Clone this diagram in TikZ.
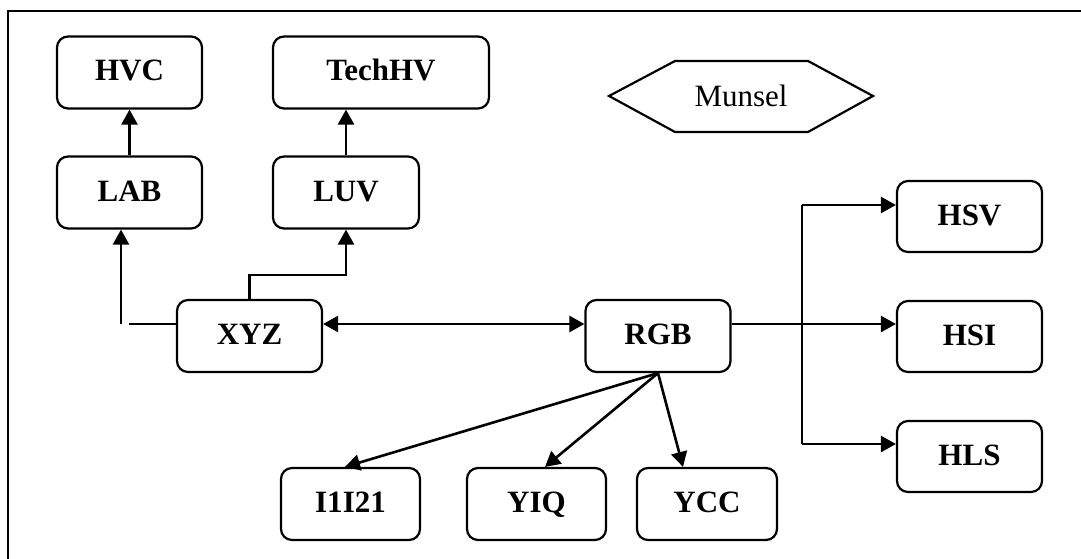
\documentclass[tikz,border=0pt]{standalone}
\usepackage{fontspec}
\setmainfont{Liberation Serif}
\usetikzlibrary{arrows.meta,calc}
\begin{document}
\begin{tikzpicture}[x=1pt,y=-1pt,
  box/.style={draw,line width=2.2pt,rounded corners=11pt,minimum height=72pt,
    font=\fontsize{31}{36}\selectfont\bfseries,inner sep=0pt,text height=22pt,text depth=5pt},
  arr/.style={line width=2.6pt,-{Triangle[length=15pt,width=16pt]}},
  arrtwo/.style={line width=2.6pt,{Triangle[length=15pt,width=16pt]}-{Triangle[length=15pt,width=16pt]}},
  ln/.style={line width=2.6pt}]
\useasboundingbox (0,0) rectangle (1081,559);
\draw[line width=2.4pt] (8,559) -- (8,11) -- (1081,11);

\node[box,minimum width=145pt] (HVC) at (129.5,72.5) {HVC};
\node[box,minimum width=216pt] (TechHV) at (381,72.5) {TechHV};
\node[box,minimum width=145pt] (LAB) at (129.5,192.5) {LAB};
\node[box,minimum width=146pt] (LUV) at (346,192.5) {LUV};
\node[box,minimum width=145pt] (XYZ) at (249.5,336) {XYZ};
\node[box,minimum width=145pt] (RGB) at (658,336) {RGB};
\node[box,minimum width=145pt,minimum height=71pt] (HSV) at (969.5,216.5) {HSV};
\node[box,minimum width=145pt,minimum height=71pt] (HSI) at (969.5,336.5) {HSI};
\node[box,minimum width=145pt,minimum height=71pt] (HLS) at (969.5,456.5) {HLS};
\node[box,minimum width=139pt] (I1I21) at (350.5,504) {I1I21};
\node[box,minimum width=139pt] (YIQ) at (536.5,504) {YIQ};
\node[box,minimum width=140pt] (YCC) at (707,504) {YCC};

\node[font=\fontsize{31}{36}\selectfont,inner sep=0pt] (Munsel) at (741,96) {Munsel};
\draw[line width=2.2pt] (609,96) -- (675,61) -- (808,61) -- (873,96) -- (808,132) -- (675,132) -- cycle;

\coordinate (a1) at (121,324);
\coordinate (a2) at (129,324);
\coordinate (v1) at (802,205);
\coordinate (v2) at (802,444);

\draw[arr] (LAB.north) -- (HVC.south);
\draw[arr] (LUV.north) -- (LUV.north |- TechHV.south);
\draw[arr] (a1) -- (a1 |- LAB.south);
\draw[ln] (a2) -- (a2 -| XYZ.west);
\draw[arr] (XYZ.north) -- ++(0,-24) -| (LUV.south);
\draw[arrtwo] (a2 -| XYZ.east) -- (a2 -| RGB.west);
\draw[arr] (a2 -| RGB.east) -- (a2 -| HSI.west);
\draw[ln] (v1) -- (v2);
\draw[arr] (v1) -- (v1 -| HSV.west);
\draw[arr] (v2) -- (v2 -| HLS.west);
\draw[arr] (RGB.south) -- ([xshift=-5.5pt]I1I21.north);
\draw[arr] (RGB.south) -- ([xshift=8.5pt]YIQ.north);
\draw[arr] (RGB.south) -- ([xshift=-24pt]YCC.north);
\end{tikzpicture}
\end{document}
